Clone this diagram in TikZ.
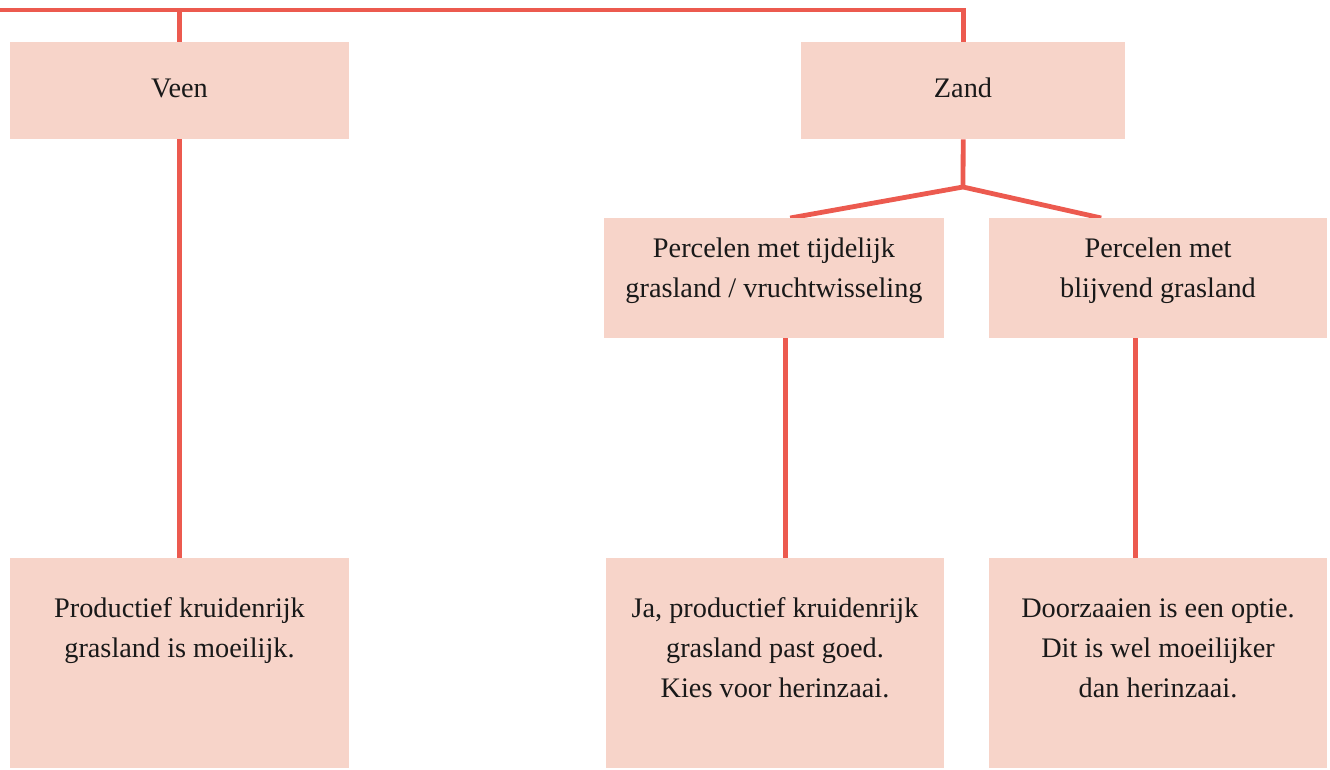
\documentclass[tikz,border=0pt]{standalone}
\usepackage{fontspec}
\setmainfont{Liberation Serif}
\usetikzlibrary{backgrounds}
\definecolor{boxfill}{HTML}{F7D4C9}
\definecolor{linered}{HTML}{EC5A4F}
\begin{document}
\begin{tikzpicture}[x=1pt,y=-1pt,
  box/.style={fill=boxfill, draw=none, inner sep=0pt, anchor=north west},
  txt/.style={font=\fontsize{28.3}{40}\selectfont, align=center, inner sep=0pt, text=black!90},
  conn/.style={draw=linered, line width=4.8pt, line join=miter}]
\useasboundingbox (0,0) rectangle (1330,770);
% boxes
\node[box, minimum width=339pt, minimum height=97pt]  (veen) at (10,42)  {};
\node[box, minimum width=324pt, minimum height=97pt]  (zand) at (801,42) {};
\node[box, minimum width=340pt, minimum height=120pt] (tij)  at (604,218) {};
\node[box, minimum width=338pt, minimum height=120pt] (blj)  at (989,218) {};
\node[box, minimum width=339pt, minimum height=210pt] (prod) at (10,558) {};
\node[box, minimum width=338pt, minimum height=210pt] (ja)   at (606,558) {};
\node[box, minimum width=338pt, minimum height=210pt] (door) at (989,558) {};
% texts
\node[txt] (tveen) at (179.5,88) {Veen};
\node[txt] (tzand) at (963,88) {Zand};
\node[txt] (ttij)  at (774,271)  {Percelen met tijdelijk\\grasland / vruchtwisseling};
\node[txt] (tblj)  at (1158,271) {Percelen met\\blijvend grasland};
\node[txt] (tprod) at (179.5,631) {Productief kruidenrijk\\grasland is moeilijk.};
\node[txt] (tja)   at (775,648)  {Ja, productief kruidenrijk\\grasland past goed.\\Kies voor herinzaai.};
\node[txt] (tdoor) at (1158,648) {Doorzaaien is een optie.\\Dit is wel moeilijker\\dan herinzaai.};
% connectors
\coordinate (start) at (0,10);
\coordinate (split) at (963,187);
\begin{scope}[on background layer]
\draw[conn] (start) -| (zand.north);
\draw[conn] (veen.north |- start) -- (veen.north);
\draw[conn] (veen.south) -- (prod.north);
\draw[conn] (zand.south) -- (split);
\draw[conn] ([xshift=16pt]tij.north) -- (split) -- ([xshift=-57pt]blj.north);
\draw[conn] ([xshift=11pt]tij.south) -- ([xshift=11pt]tij.south |- ja.north);
\draw[conn] ([xshift=-23pt]blj.south) -- ([xshift=-23pt]blj.south |- door.north);
\end{scope}
\end{tikzpicture}
\end{document}
